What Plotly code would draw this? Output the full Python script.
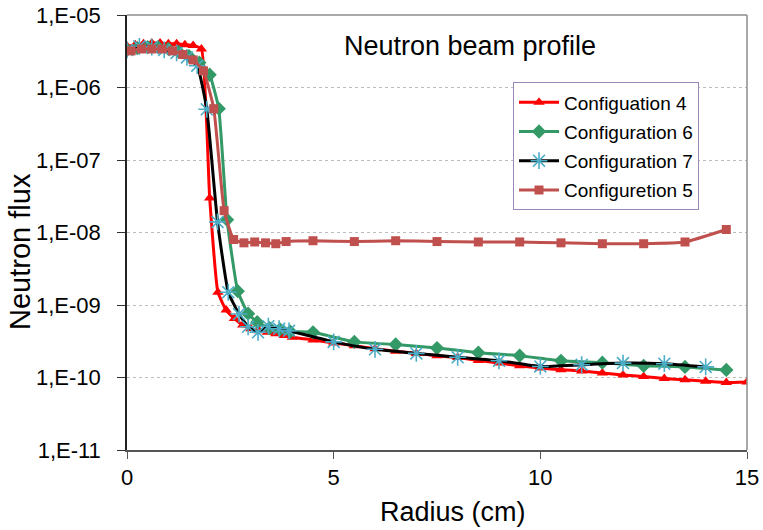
import plotly.graph_objects as go

# ---------------- data ----------------
x_c4 = [0, 0.2, 0.4, 0.6, 0.8, 1.0, 1.2, 1.4, 1.6, 1.8, 2.0, 2.2, 2.4, 2.6, 2.8, 3.0,
        3.2, 3.4, 3.6, 3.8, 4.0, 4.5, 5.0, 5.5, 6.0, 6.5, 7.0, 7.5, 8.0, 8.5, 9.0,
        9.5, 10.0, 10.5, 11.0, 11.5, 12.0, 12.5, 13.0, 13.5, 14.0, 14.5, 15.0]
y_c4 = [3.7e-6, 3.9e-6, 4.0e-6, 4.1e-6, 4.1e-6, 4.0e-6, 4.0e-6, 3.9e-6, 3.8e-6, 3.4e-6,
        3.0e-8, 1.5e-9, 8.5e-10, 6.5e-10, 5.3e-10, 4.7e-10, 4.4e-10, 4.2e-10, 4.0e-10,
        3.8e-10, 3.6e-10, 3.3e-10, 3.0e-10, 2.75e-10, 2.5e-10, 2.3e-10, 2.15e-10,
        2.0e-10, 1.88e-10, 1.72e-10, 1.58e-10, 1.45e-10, 1.35e-10, 1.28e-10, 1.23e-10,
        1.15e-10, 1.08e-10, 1.03e-10, 9.7e-11, 9.3e-11, 8.9e-11, 8.5e-11, 8.7e-11]

x_c6 = [0, 0.25, 0.5, 0.75, 1.0, 1.25, 1.5, 1.75, 2.0, 2.22, 2.42, 2.68, 2.93, 3.15,
        3.45, 3.7, 3.95, 4.5, 5.5, 6.5, 7.5, 8.5, 9.5, 10.5, 11.5, 12.5, 13.5, 14.5]
y_c6 = [3.3e-6, 3.5e-6, 3.6e-6, 3.6e-6, 3.4e-6, 3.1e-6, 2.7e-6, 2.2e-6, 1.5e-6, 5.1e-7,
        1.5e-8, 1.55e-9, 7.6e-10, 5.8e-10, 4.8e-10, 4.6e-10, 4.3e-10, 4.2e-10, 3.1e-10,
        2.85e-10, 2.55e-10, 2.2e-10, 2.0e-10, 1.7e-10, 1.6e-10, 1.45e-10, 1.4e-10, 1.27e-10]

x_c7 = [0, 0.3, 0.6, 0.9, 1.2, 1.45, 1.7, 1.93, 2.19, 2.45, 2.71, 2.93, 3.17, 3.42,
        3.68, 3.92, 5, 6, 7, 8, 9, 10, 11, 12, 13, 14]
y_c7 = [3.3e-6, 3.7e-6, 3.6e-6, 3.3e-6, 3.0e-6, 2.6e-6, 2.0e-6, 5.0e-7, 1.4e-8, 1.5e-9,
        7.5e-10, 5.0e-10, 4.2e-10, 5.1e-10, 4.7e-10, 4.4e-10, 3.1e-10, 2.45e-10,
        2.15e-10, 1.9e-10, 1.7e-10, 1.42e-10, 1.5e-10, 1.58e-10, 1.55e-10, 1.4e-10]

x_c5 = [0.1, 0.35, 0.6, 0.85, 1.1, 1.35, 1.6, 1.85, 2.1, 2.35, 2.58, 2.83, 3.09, 3.35,
        3.6, 3.85, 4.5, 5.5, 6.5, 7.5, 8.5, 9.5, 10.5, 11.5, 12.5, 13.5, 14.5]
y_c5 = [3.2e-6, 3.4e-6, 3.4e-6, 3.4e-6, 3.2e-6, 2.85e-6, 2.4e-6, 1.7e-6, 5.1e-7, 2.0e-8,
        8.0e-9, 7.2e-9, 7.4e-9, 7.2e-9, 7.0e-9, 7.5e-9, 7.7e-9, 7.5e-9, 7.7e-9, 7.5e-9,
        7.4e-9, 7.4e-9, 7.2e-9, 7.0e-9, 7.0e-9, 7.4e-9, 1.1e-8]

series_names = ["Configuation 4", "Configuration 6", "Configuration 7", "Configuretion 5"]

y_tickvals = [1e-11, 1e-10, 1e-9, 1e-8, 1e-7, 1e-6, 1e-5]
y_ticktext = ["1,E-11", "1,E-10", "1,E-09", "1,E-08", "1,E-07", "1,E-06", "1,E-05"]
x_tickvals = [0, 5, 10, 15]

FONT = "Liberation Sans, Arial, sans-serif"

fig = go.Figure()

fig.add_trace(go.Scatter(
    x=x_c4, y=y_c4, name=series_names[0], mode="lines+markers", legendgroup="a",
    line=dict(color="#FF0000", width=3, shape="spline", smoothing=0.4),
    marker=dict(symbol="triangle-up", size=10, color="#FF0000")))
fig.add_trace(go.Scatter(
    x=x_c6, y=y_c6, name=series_names[1], mode="lines+markers", legendgroup="b",
    line=dict(color="#339966", width=3, shape="spline", smoothing=0.4),
    marker=dict(symbol="diamond", size=11, color="#339966")))
fig.add_trace(go.Scatter(
    x=x_c7, y=y_c7, name=series_names[2], mode="lines+markers", legendgroup="c",
    line=dict(color="#000000", width=3, shape="spline", smoothing=0.4),
    marker=dict(symbol="asterisk-open", size=14, color="#4BACC6",
                line=dict(color="#4BACC6", width=1.6))))
fig.add_trace(go.Scatter(
    x=x_c5, y=y_c5, name=series_names[3], mode="lines+markers", legendgroup="d",
    line=dict(color="#C0504D", width=3, shape="spline", smoothing=0.4),
    marker=dict(symbol="square", size=9, color="#C0504D")))

fig.update_layout(
    width=763, height=530,
    margin=dict(l=127, r=16, t=15, b=80),
    paper_bgcolor="white", plot_bgcolor="white",
    font=dict(family=FONT, color="black"),
    showlegend=True,
    legend=dict(x=0.6226, y=0.845, xanchor="left", yanchor="top",
                bgcolor="white", bordercolor="#9a86b8", borderwidth=1,
                font=dict(family=FONT, size=19, color="black"),
                tracegroupgap=1.5, itemwidth=40),
    xaxis=dict(range=[0, 15], tickvals=x_tickvals, ticks="outside", ticklen=7,
               tickcolor="#555", linecolor="#555", linewidth=1.5, showline=True,
               showgrid=False, zeroline=False, automargin=False,
               tickfont=dict(family=FONT, size=22, color="black")),
    yaxis=dict(type="log", range=[-11, -5], tickvals=y_tickvals, ticktext=y_ticktext,
               ticks="outside", ticklen=8, tickcolor="#333", linecolor="#222",
               linewidth=1.5, showline=True, showgrid=True, gridcolor="#bdbdbd",
               griddash="dot", gridwidth=1, zeroline=False, ticklabelstandoff=12,
               automargin=False,
               tickfont=dict(family=FONT, size=22, color="black")),
    shapes=[
        dict(type="line", xref="paper", yref="paper", x0=0, x1=1, y0=1, y1=1,
             line=dict(color="#8c8c8c", width=1.5)),
        dict(type="line", xref="paper", yref="paper", x0=1, x1=1, y0=0, y1=1,
             line=dict(color="#8c8c8c", width=1.5)),
    ],
    annotations=[
        dict(text="Neutron beam profile", xref="paper", yref="paper", x=0.553, y=0.929,
             showarrow=False, font=dict(family=FONT, size=27, color="black"),
             xanchor="center", yanchor="middle"),
        dict(text="Radius (cm)", xref="paper", yref="paper", x=0.525, y=-0.142,
             showarrow=False, font=dict(family=FONT, size=27, color="black"),
             xanchor="center", yanchor="middle"),
        dict(text="Neutron flux", xref="paper", yref="paper", x=-0.1726, y=0.4575,
             showarrow=False, textangle=-90, font=dict(family=FONT, size=29, color="black"),
             xanchor="center", yanchor="middle"),
    ],
)

fig.write_html("out.html")
